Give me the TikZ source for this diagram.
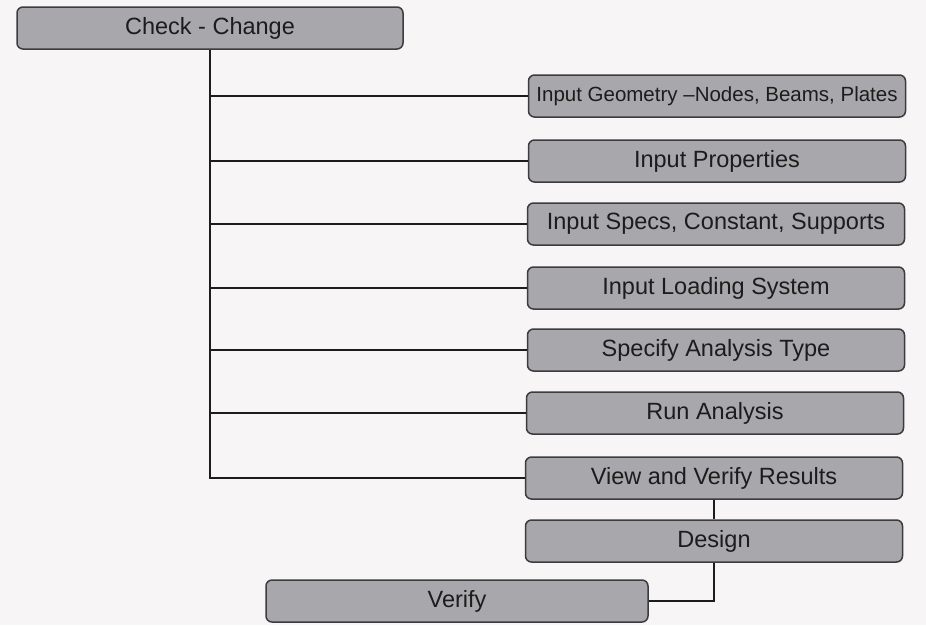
\documentclass[tikz,border=0pt]{standalone}
\usepackage{fontspec}
\setmainfont{Liberation Sans}
\usepackage{tikz}
\definecolor{paper}{RGB}{248,245,247}
\definecolor{boxgray}{RGB}{168,167,171}
\definecolor{boxline}{RGB}{60,60,62}
\definecolor{ink}{RGB}{28,28,28}
\begin{document}
\begin{tikzpicture}[x=1pt,y=-1pt,
    stepbox/.style={draw=boxline, fill=boxgray, line width=1.5pt, rounded corners=6pt,
      minimum width=377pt, minimum height=42pt, inner sep=0pt, text=ink,
      font=\fontsize{23.5}{28}\selectfont},
    link/.style={draw=ink, line width=2pt}]
      \fill[paper] (0,0) rectangle (926,625);
      \node[stepbox, minimum width=386pt] (chk) at (210,28) {Check - Change};
      \node[stepbox, font=\fontsize{20.5}{24}\selectfont] (geo) at (717,96) {Input Geometry --Nodes, Beams, Plates};
      \node[stepbox] (props) at (717,161) {Input Properties};
      \node[stepbox] (specs) at (716,224) {Input Specs, Constant, Supports};
      \node[stepbox] (load) at (716,288) {Input Loading System};
      \node[stepbox] (antype) at (716,350) {Specify Analysis Type};
      \node[stepbox] (run) at (715,413) {Run Analysis};
      \node[stepbox] (view) at (714,478) {View and Verify Results};
      \node[stepbox] (design) at (714,541) {Design};
      \node[stepbox, minimum width=382pt] (verify) at (457,601) {Verify};
      \foreach \n in {geo,props,specs,load,antype,run}
        \draw[link] (chk.south |- \n.west) -- (\n.west);
      \draw[link] (chk.south) |- (view.west);
      \draw[link] (view) -- (design);
      \draw[link] (design.south) |- (verify.east);
    \end{tikzpicture}
\end{document}
